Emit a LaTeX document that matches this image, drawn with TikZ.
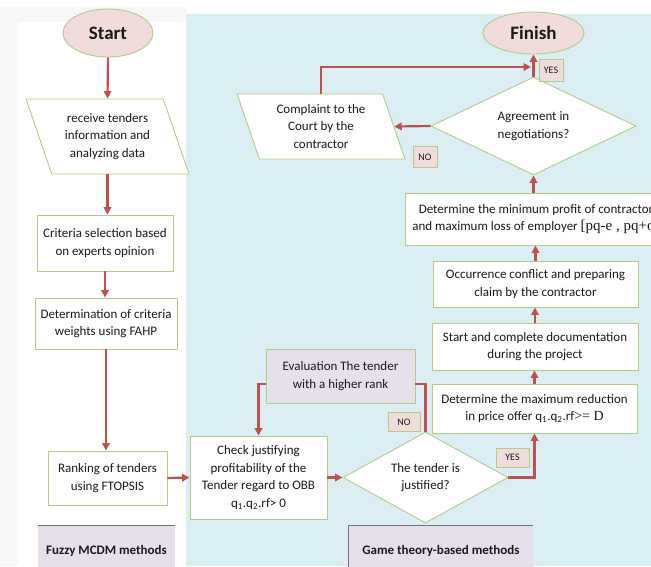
\documentclass[tikz,border=0pt]{standalone}
\usepackage{fontspec}
\setmainfont{Carlito}
\newfontfamily\tnr{Liberation Serif}
\usetikzlibrary{shapes.geometric,arrows.meta}
\definecolor{arrowred}{HTML}{C0504D}
\definecolor{boxgreen}{HTML}{B3CC86}
\definecolor{pinkfill}{HTML}{F2DCDB}
\definecolor{lavfill}{HTML}{E5E0EC}
\definecolor{bluebg}{HTML}{DAEEF3}
\definecolor{txt}{HTML}{1A1A1A}
\definecolor{shadegray}{HTML}{F7F7F7}
\begin{document}
\begin{tikzpicture}[x=1pt,y=-1pt,
  every node/.style={font=\fontsize{13}{17.5}\selectfont, text=txt, align=center, inner sep=0pt},
  proc/.style={rectangle, draw=boxgreen, line width=0.9pt, fill=white},
  evalbox/.style={rectangle, draw=boxgreen, line width=0.9pt, fill=lavfill},
  term/.style={ellipse, draw=boxgreen, line width=0.9pt, fill=pinkfill, font=\fontsize{19}{22}\selectfont\bfseries},
  para/.style={trapezium, trapezium stretches=true, draw=boxgreen, line width=0.9pt, fill=white},
  dec/.style={diamond, aspect=2, draw=boxgreen, line width=0.9pt, fill=white},
  lbl/.style={rectangle, draw=boxgreen, line width=0.9pt, fill=pinkfill, font=\fontsize{10}{12}\selectfont},
  cat/.style={rectangle, fill=lavfill, font=\fontsize{13}{15}\selectfont\bfseries},
  conn/.style={draw=arrowred, line width=2.2pt, -{Triangle[length=7.5pt,width=7.5pt]}},
  plainconn/.style={draw=arrowred, line width=2.2pt}
]
\useasboundingbox (0,0) rectangle (651,566);
\clip (0,0) rectangle (651,566);
% backgrounds
\fill[white] (0,0) rectangle (651,566);
\fill[shadegray] (0,7) rectangle (186,22);
\fill[shadegray] (0,22) rectangle (18,566);
\fill[bluebg] (186,14) rectangle (651,566);

% left column
\node[term, minimum width=90, minimum height=48] (start) at (108,33) {Start};
\node[para, trapezium left angle=113, trapezium right angle=67, minimum width=163, minimum height=75] (recv) at (107.5,136.5) {receive tenders\\information and\\analyzing data};
\node[proc, minimum width=136, minimum height=56] (crit) at (105,243) {Criteria selection based\\on experts opinion};
\node[proc, minimum width=142, minimum height=51] (weights) at (106,323.5) {Determination of criteria\\weights using FAHP};
\node[proc, minimum width=119, minimum height=54] (rank) at (107.5,478) {Ranking of tenders\\using FTOPSIS};
\node[cat, minimum width=137, minimum height=50] (fuzzy) at (106.5,551) {Fuzzy MCDM methods};

% middle
\node[proc, minimum width=137, minimum height=83] (check) at (258.5,477.5) {Check justifying\\profitability of the\\Tender regard to OBB\\q\textsubscript{1}.q\textsubscript{2}.rf> 0};
\node[evalbox, minimum width=149, minimum height=54] (eval) at (340.5,376) {Evaluation The tender\\with a higher rank};
\node[dec, minimum width=165, minimum height=91] (just) at (425.5,477.5) {The tender is\\justified?};
\node[cat, minimum width=184, minimum height=50] (game) at (441,551) {Game theory-based methods};

% right column
\node[proc, minimum width=205, minimum height=49] (maxred) at (534.5,408.5) {Determine the maximum reduction\\in price offer q\textsubscript{1}.q\textsubscript{2}.rf{\tnr\fontsize{14}{17.5}\selectfont >= D}};
\node[proc, minimum width=206, minimum height=47] (doc) at (535,346.5) {Start and complete documentation\\during the project};
\node[proc, minimum width=205, minimum height=46] (conf) at (535.5,284) {Occurrence conflict and preparing\\claim by the contractor};
\node[proc, minimum width=262, minimum height=52] (minprof) at (536,219) {Determine the minimum profit of contractor\\and maximum loss of employer {\tnr\fontsize{15}{17.5}\selectfont [pq-e , pq+o]}};
\node[dec, minimum width=205, minimum height=98] (agree) at (533.5,126) {Agreement in\\negotiations?};
\node[term, minimum width=101, minimum height=42] (finish) at (533.5,33) {Finish};
\node[para, trapezium left angle=110, trapezium right angle=70, minimum width=168, minimum height=65] (court) at (321,126.5) {Complaint to the\\Court by the\\contractor};

% labels
\node[lbl, minimum width=24, minimum height=22] (yes1) at (551,70) {YES};
\node[lbl, minimum width=24, minimum height=21] (no1) at (425,157) {NO};
\node[lbl, minimum width=32, minimum height=19] (no2) at (404,422) {NO};
\node[lbl, minimum width=33, minimum height=19] (yes2) at (512.5,457.5) {YES};

% category box edges
\draw[black!55, line width=0.8pt] (fuzzy.north west) -- (fuzzy.north east);
\draw[black!55, line width=0.8pt] (game.south west) -- (game.north west) -- (game.north east);

% connectors left column
\draw[conn] (start.south) -- (recv.north);
\draw[conn] (recv.south) -- (recv.south |- crit.north);
\draw[conn] (crit.south) -- (crit.south |- weights.north);
\draw[conn] (weights.south) -- (weights.south |- rank.north);
\draw[conn] (rank.east) -- (check.west);
\draw[conn] (check.east) -- (just.west);

% decision branches
\draw[plainconn] (just.north) |- ([yshift=-8pt]eval.east);
\draw[conn] ([yshift=-8pt]eval.west) -| (check.north);
\draw[conn] (just.east) -| (maxred.south);

% right column upward
\draw[conn] (maxred.north) -- (maxred.north |- doc.south);
\draw[conn] (doc.north) -- (doc.north |- conf.south);
\draw[conn] (conf.north) -- (conf.north |- minprof.south);
\draw[conn] (minprof.north -| agree.south) -- (agree.south);
\draw[conn] (agree.north) -- (finish.south);
\draw[conn] (agree.west) -- (court.east);
\coordinate (join) at (531,67);
\draw[conn] (court.north) |- (join);
\end{tikzpicture}
\end{document}
